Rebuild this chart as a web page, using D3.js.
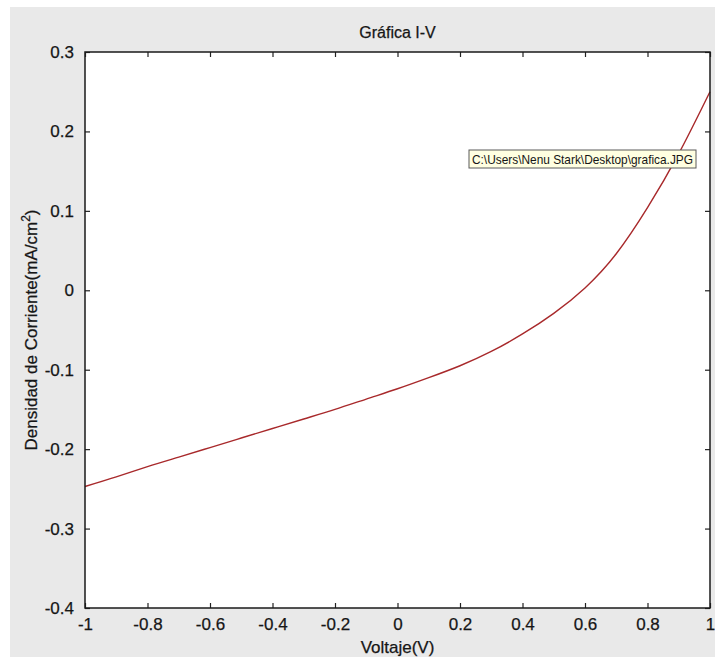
<!DOCTYPE html>
<html>
<head>
<meta charset="utf-8">
<title>Gráfica I-V</title>
<script src="https://cdn.jsdelivr.net/npm/d3@7"></script>
<style>
  html, body { margin: 0; padding: 0; background: #ffffff; }
  #chart { width: 715px; height: 668px; }
  text { font-family: "Liberation Sans", Arial, sans-serif; fill: #161616; }
  .heavy { stroke: #161616; stroke-width: 0.25px; }
</style>
</head>
<body>
<div id="chart"></div>
<script>
"use strict";

// voltage (V) and current density (mA/cm^2)
const voltage = [-1, -0.9, -0.8, -0.7, -0.6, -0.5, -0.4, -0.3, -0.2, -0.1, 0,
  0.1, 0.2, 0.3, 0.4, 0.5, 0.6, 0.7, 0.8, 0.9, 1];
const current = [-0.247, -0.235, -0.222, -0.210, -0.198, -0.186, -0.174, -0.162,
  -0.150, -0.137, -0.124, -0.110, -0.095, -0.077, -0.055, -0.029, 0.003,
  0.046, 0.104, 0.172, 0.250];

const xTicks = [-1, -0.8, -0.6, -0.4, -0.2, 0, 0.2, 0.4, 0.6, 0.8, 1];
const yTicks = [-0.4, -0.3, -0.2, -0.1, 0, 0.1, 0.2, 0.3];

const titleText = "Gráfica I-V";
const xLabel = "Voltaje(V)";
const yLabel = "Densidad de Corriente(mA/cm";
const tipText = "C:\\Users\\Nenu Stark\\Desktop\\grafica.JPG";

window.addEventListener("load", function () {
  draw(voltage.map((v, i) => ({ v: v, j: current[i] })));
});

// matlab style labels: plain hyphen, no trailing zeros
function fmt(d) {
  return String(+d.toFixed(1));
}

function draw(data) {
  const w = 715;
  const h = 668;
  const box = { left: 85, right: 710, top: 52, bottom: 608 };
  const tick = 5;

  const svg = d3
    .select("#chart")
    .append("svg")
    .attr("width", w)
    .attr("height", h);

  // grey figure background
  svg
    .append("rect")
    .attr("x", 10)
    .attr("y", 7)
    .attr("width", w - 10)
    .attr("height", 650)
    .attr("fill", "#e9e9e9");

  svg
    .append("rect")
    .attr("x", box.left)
    .attr("y", box.top)
    .attr("width", box.right - box.left)
    .attr("height", box.bottom - box.top)
    .attr("fill", "#ffffff");

  const xScale = d3.scaleLinear().domain([-1, 1]).range([box.left, box.right]);
  const yScale = d3.scaleLinear().domain([-0.4, 0.3]).range([box.bottom, box.top]);

  // the curve
  const line = d3
    .line()
    .curve(d3.curveNatural)
    .x((d) => xScale(d.v))
    .y((d) => yScale(d.j));

  svg
    .append("path")
    .datum(data)
    .attr("d", line)
    .attr("fill", "none")
    .attr("stroke", "#a8292b")
    .attr("stroke-width", 1.4);

  // axes, ticks pointing inwards like matlab
  const bottom = svg
    .append("g")
    .attr("transform", `translate(0, ${box.bottom})`)
    .call(d3.axisBottom(xScale).tickValues(xTicks).tickSizeInner(-tick).tickSizeOuter(0).tickPadding(10).tickFormat(fmt));
  const top = svg
    .append("g")
    .attr("transform", `translate(0, ${box.top})`)
    .call(d3.axisTop(xScale).tickValues(xTicks).tickSizeInner(-tick).tickSizeOuter(0).tickFormat(""));
  const left = svg
    .append("g")
    .attr("transform", `translate(${box.left}, 0)`)
    .call(d3.axisLeft(yScale).tickValues(yTicks).tickSizeInner(-tick).tickSizeOuter(0).tickPadding(11).tickFormat(fmt));
  const right = svg
    .append("g")
    .attr("transform", `translate(${box.right}, 0)`)
    .call(d3.axisRight(yScale).tickValues(yTicks).tickSizeInner(-tick).tickSizeOuter(0).tickFormat(""));

  [bottom, top, left, right].forEach((g) => {
    g.select(".domain").remove();
    g.selectAll(".tick line").attr("stroke", "#222").attr("stroke-width", 1.2);
    g.selectAll(".tick text")
      .attr("class", "heavy")
      .attr("font-size", 17)
      .attr("font-family", "Liberation Sans, Arial, sans-serif")
      .attr("fill", "#161616");
  });

  svg
    .append("rect")
    .attr("x", box.left)
    .attr("y", box.top)
    .attr("width", box.right - box.left)
    .attr("height", box.bottom - box.top)
    .attr("fill", "none")
    .attr("stroke", "#1a1a1a")
    .attr("stroke-width", 1.5);

  // title and labels
  svg
    .append("text")
    .text(titleText)
    .attr("class", "heavy")
    .attr("x", (box.left + box.right) / 2)
    .attr("y", 38)
    .attr("text-anchor", "middle")
    .attr("font-size", 16);

  svg
    .append("text")
    .text(xLabel)
    .attr("class", "heavy")
    .attr("x", (box.left + box.right) / 2)
    .attr("y", 653)
    .attr("text-anchor", "middle")
    .attr("font-size", 17);

  const yl = svg
    .append("text")
    .attr("class", "heavy")
    .attr("text-anchor", "middle")
    .attr("font-size", 17)
    .attr("transform", `translate(37, ${(box.top + box.bottom) / 2}) rotate(-90)`);
  yl.append("tspan").text(yLabel);
  yl.append("tspan").text("2").attr("font-size", 12).attr("dy", -7);
  yl.append("tspan").text(")").attr("dy", 7);

  // the windows tooltip box
  const tip = svg.append("g").attr("transform", "translate(469, 150)");
  tip
    .append("rect")
    .attr("width", 227)
    .attr("height", 18)
    .attr("fill", "#ffffe1")
    .attr("stroke", "#5a5a5a")
    .attr("stroke-width", 1);
  tip
    .append("text")
    .text(tipText)
    .attr("x", 3)
    .attr("y", 13.5)
    .attr("font-size", 13)
    .attr("textLength", 221)
    .attr("lengthAdjust", "spacingAndGlyphs")
    .attr("fill", "#111");
}
</script>
</body>
</html>
